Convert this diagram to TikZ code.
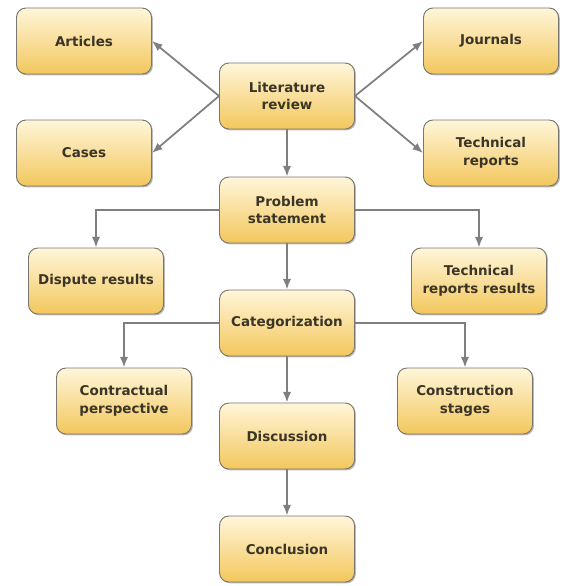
\documentclass[tikz,border=0pt]{standalone}
\usepackage{fontspec}
\setmainfont{DejaVu Sans}
\usetikzlibrary{positioning,arrows.meta,calc,shadows}

\definecolor{boxtop}{HTML}{FFF6DA}
\definecolor{boxbottom}{HTML}{F3C75C}
\definecolor{boxline}{HTML}{7A7670}
\definecolor{boxtext}{HTML}{3A3526}
\definecolor{arrowgray}{HTML}{7F7F7F}

\begin{document}
\begin{tikzpicture}[x=0.03cm, y=-0.03cm,
		step_box/.style={rectangle, rounded corners=8pt, draw=boxline, line width=0.8pt,
			top color=boxtop, bottom color=boxbottom, text=boxtext, align=center,
			minimum width=4.05cm, minimum height=1.98cm,
			font=\bfseries\fontsize{11.5}{15}\selectfont,
			drop shadow={shadow xshift=1.2pt, shadow yshift=-1.2pt, fill=black!45, opacity=0.6}},
		flow_arrow/.style={draw=arrowgray, line width=1.5pt, -{Latex[length=9pt, width=7pt]}}
		]
		
		\useasboundingbox (0,0) rectangle (563,586);
		
		\node[step_box] (literature) at (287, 96) {Literature\\review};
		\node[step_box] (articles) at (84, 41) {Articles};
		\node[step_box] (cases) at (84, 153) {Cases};
		\node[step_box] (journals) at (491, 41) {Journals};
		\node[step_box] (techreports) at (491, 153) {Technical\\reports};
		\node[step_box] (problem) at (287, 210) {Problem\\statement};
		\node[step_box] (dispute) at (96, 281) {Dispute results};
		\node[step_box] (techresults) at (479, 281) {Technical\\reports results};
		\node[step_box] (categorization) at (287, 323) {Categorization};
		\node[step_box] (contractual) at (124, 401) {Contractual\\perspective};
		\node[step_box] (construction) at (465, 401) {Construction\\stages};
		\node[step_box] (discussion) at (287, 436) {Discussion};
		\node[step_box] (conclusion) at (287, 549) {Conclusion};
		
		\draw[flow_arrow] (literature.west) -- (articles.east);
		\draw[flow_arrow] (literature.west) -- (cases.east);
		\draw[flow_arrow] (literature.east) -- (journals.west);
		\draw[flow_arrow] (literature.east) -- (techreports.west);
		\draw[flow_arrow] (literature) -- (problem);
		\draw[flow_arrow] (problem.west) -| (dispute.north);
		\draw[flow_arrow] (problem.east) -| (techresults.north);
		\draw[flow_arrow] (problem) -- (categorization);
		\draw[flow_arrow] (categorization.west) -| (contractual.north);
		\draw[flow_arrow] (categorization.east) -| (construction.north);
		\draw[flow_arrow] (categorization) -- (discussion);
		\draw[flow_arrow] (discussion) -- (conclusion);
	\end{tikzpicture}
\end{document}
